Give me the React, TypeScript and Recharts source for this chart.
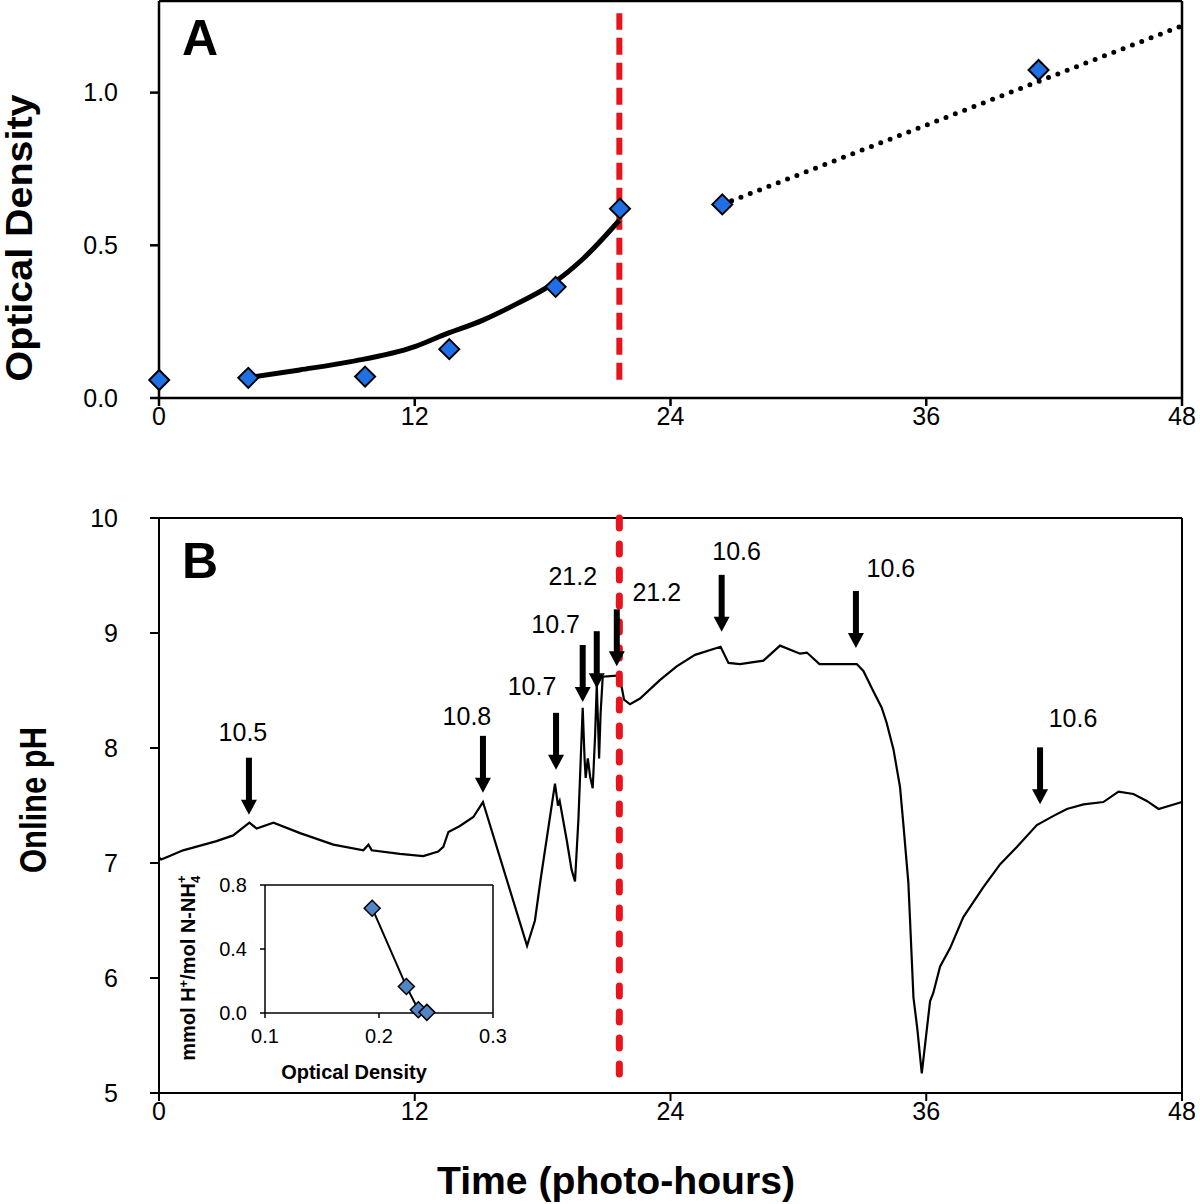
import React from 'react';
import { ComposedChart, Line, Scatter, XAxis, YAxis, ReferenceLine } from 'recharts';

const FONT = '"Liberation Sans", Arial, Helvetica, sans-serif';

// ---------- Panel A : optical density ----------
const odTime = [0.01, 4.19, 9.67, 13.62, 18.61, 21.63, 26.43, 41.27];
const odValue = [0.059, 0.066, 0.07, 0.16, 0.364, 0.62, 0.634, 1.074];
const fitTime = [4.3, 6.6, 9.0, 12.0, 13.3, 15.2, 16.8, 18.35, 19.9, 21.6];
const fitValue = [0.068, 0.092, 0.119, 0.168, 0.205, 0.255, 0.309, 0.369, 0.456, 0.582];
const trendTime = [26.43, 48];
const trendValue = [0.634, 1.219];
const odTicks = [0, 0.5, 1.0];
const timeTicks = [0, 12, 24, 36, 48];
const switchTime = 21.6;

// ---------- Panel B : online pH ----------
const phTime = [
  0, 0.1, 0.36, 1.13, 2.7, 3.48, 4.24, 4.58, 5.37, 6.62, 8.18, 9.59, 9.83, 9.98, 11.3, 12.4, 13.1, 13.34,
  13.58, 14.1, 14.75, 15.2, 17.27, 17.64, 17.9, 18.58, 18.72, 18.8, 19.13, 19.36, 19.52, 19.68, 19.88,
  19.97, 20.02, 20.12, 20.23, 20.35, 20.46, 20.54, 20.62, 20.65, 20.72, 20.82, 21.47, 21.6, 21.72, 21.82,
  22.1, 22.57, 23.5, 24.29, 25.15, 26.35, 26.72, 27.26, 28.36, 29.14, 30.08, 30.4, 30.99, 32.74, 33.05,
  33.5, 33.91, 34.14, 34.46, 34.77, 34.93, 35.16, 35.24, 35.4, 35.58, 35.79, 36.18, 36.33, 36.65, 37.12,
  37.74, 38.68, 39.47, 40.25, 41.19, 41.97, 42.6, 43.38, 44.31, 45.02, 45.72, 46.35, 46.9, 48,
];
const phValue = [
  7.05, 7.03, 7.05, 7.11, 7.19, 7.24, 7.35, 7.3, 7.35, 7.26, 7.16, 7.11, 7.16, 7.11, 7.08, 7.06, 7.1, 7.14,
  7.27, 7.32, 7.4, 7.53, 6.28, 6.5, 6.85, 7.69, 7.5, 7.54, 7.2, 6.94, 6.84, 7.38, 8.35,
  7.9, 7.74, 7.91, 7.75, 7.65, 8.1, 8.55, 8.1, 7.91, 8.3, 8.62, 8.63, 8.63, 8.52, 8.42,
  8.38, 8.43, 8.59, 8.71, 8.81, 8.88, 8.74, 8.73, 8.76, 8.89, 8.82, 8.83, 8.73, 8.73, 8.67,
  8.5, 8.35, 8.22, 7.99, 7.66, 7.33, 6.83, 6.5, 5.83, 5.56, 5.17, 5.8, 5.87, 6.1, 6.26,
  6.53, 6.79, 6.99, 7.14, 7.33, 7.41, 7.47, 7.51, 7.53, 7.62, 7.6, 7.54, 7.47, 7.53,
];
const phTicks = [5, 6, 7, 8, 9, 10];
const arrowTime = [4.22, 15.2, 18.63, 19.88, 20.54, 21.48, 26.4, 32.7, 41.34];
const arrowPH = [7.42, 7.61, 7.81, 8.4, 8.52, 8.71, 9.01, 8.87, 7.51];
const arrowLabel = ['10.5', '10.8', '10.7', '10.7', '21.2', '21.2', '10.6', '10.6', '10.6'];

// ---------- Inset ----------
const insetOD = [0.194, 0.224, 0.2345, 0.242];
const insetRatio = [0.655, 0.166, 0.02, 0.004];
const insetXTicks = [0.1, 0.2, 0.3];
const insetYTicks = [0, 0.4, 0.8];

// ---------- assembled tables ----------
const odPoints = odTime.map((x, i) => ({ x, y: odValue[i] }));
const fitPoints = fitTime.map((x, i) => ({ x, y: fitValue[i] }));
const trendPoints = trendTime.map((x, i) => ({ x, y: trendValue[i] }));
const phPoints = phTime.map((x, i) => ({ x, y: phValue[i] }));
const arrowPoints = arrowTime.map((x, i) => ({ x, y: arrowPH[i], label: arrowLabel[i] }));
const insetPoints = insetOD.map((x, i) => ({ x, y: insetRatio[i] }));

// label offsets (px) of the arrow annotations, relative to the arrow tip
const ARROW_LABEL_OFFSET: [number, number][] = [
  [-6, -74], [-16, -68], [-24, -75], [-27, -69], [-24, -103], [40, -65], [15, -72], [35, -71], [33, -77],
];

const makeDiamond = (r: number, fill: string, sw: number) => (props: any) => {
  const { cx, cy } = props;
  if (cx == null || cy == null) return <g />;
  return (
    <polygon
      points={`${cx},${cy - r} ${cx + r},${cy} ${cx},${cy + r} ${cx - r},${cy}`}
      fill={fill}
      stroke="#000"
      strokeWidth={sw}
    />
  );
};

const ArrowShape = (props: any) => {
  const { cx, cy, payload } = props;
  if (cx == null || cy == null) return <g />;
  const i = arrowTime.indexOf(payload.x);
  const [dx, dy] = ARROW_LABEL_OFFSET[i] || [0, -70];
  return (
    <g>
      <rect x={cx - 3} y={cy - 57} width={6} height={43} fill="#000" />
      <polygon points={`${cx - 8},${cy - 15} ${cx + 8},${cy - 15} ${cx},${cy}`} fill="#000" />
      <text x={cx + dx} y={cy + dy} textAnchor="middle" fontSize={25} fontFamily={FONT} fill="#000">
        {payload.label}
      </text>
    </g>
  );
};

const SvgText = (p: any) => {
  const { px, py, rot, size, len, weight = 'bold', children } = p;
  return (
    <text
      x={px}
      y={py}
      transform={rot ? `rotate(-90 ${px} ${py})` : undefined}
      textAnchor="middle"
      fontSize={size}
      fontWeight={weight}
      fontFamily={FONT}
      fill="#000"
      textLength={len}
      lengthAdjust={len ? 'spacingAndGlyphs' : undefined}
    >
      {children}
    </text>
  );
};

const PanelATitles = () => (
  <g>
    <SvgText px={32} py={238} rot size={36} len={287}>Optical Density</SvgText>
    <text x={182} y={55} fontSize={50} fontWeight="bold" fontFamily={FONT} fill="#000">A</text>
  </g>
);

const PanelBTitles = () => (
  <g>
    <SvgText px={46} py={330} rot size={36} len={146}>Online pH</SvgText>
    <text x={182} y={108} fontSize={50} fontWeight="bold" fontFamily={FONT} fill="#000">B</text>
  </g>
);

const TimeTitle = () => <SvgText px={616} py={724} size={38} len={358}>Time (photo-hours)</SvgText>;

const InsetYTitle = () => (
  <text
    x={45}
    y={108}
    transform="rotate(-90 45 108)"
    textAnchor="middle"
    fontSize={20}
    fontWeight="bold"
    fontFamily={FONT}
    fill="#000"
  >
    mmol H
    <tspan fontSize={13} dy={-7}>+</tspan>
    <tspan dy={7}>/mol N-NH</tspan>
    <tspan fontSize={13} dy={5}>4</tspan>
    <tspan fontSize={13} dx={-7} dy={-14}>+</tspan>
  </text>
);

const InsetXTitle = () => <SvgText px={204} py={219} size={20}>Optical Density</SvgText>;

const tickStyle = { fontSize: 25, fill: '#000', fontFamily: FONT };
const insetTickStyle = { fontSize: 20, fill: '#000', fontFamily: FONT };

export default function App() {
  return (
    <div style={{ position: 'absolute', left: 0, top: 0, width: 1200, height: 1204, background: '#fff', fontFamily: FONT }}>
      {/* Panel A */}
      <div style={{ position: 'absolute', left: 0, top: 0 }}>
        <ComposedChart width={1200} height={450} margin={{ top: 1, right: 18, left: 0, bottom: 0 }}>
          <XAxis
            dataKey="x"
            type="number"
            domain={[0, 48]}
            ticks={timeTicks}
            tick={tickStyle}
            tickSize={8}
            tickMargin={1}
            height={52}
            axisLine={{ stroke: '#000', strokeWidth: 2.5 }}
            tickLine={{ stroke: '#000', strokeWidth: 2.5 }}
          />
          <YAxis
            dataKey="y"
            type="number"
            domain={[0, 1.3]}
            ticks={odTicks}
            tickFormatter={(v: number) => v.toFixed(1)}
            tick={tickStyle}
            tickSize={9}
            tickMargin={32}
            width={159}
            axisLine={{ stroke: '#000', strokeWidth: 2.5 }}
            tickLine={{ stroke: '#000', strokeWidth: 2.5 }}
            label={<PanelATitles />}
          />
          <ReferenceLine y={1.3} stroke="#000" strokeWidth={2.5} />
          <ReferenceLine x={48} stroke="#000" strokeWidth={2.5} />
          <ReferenceLine
            segment={[{ x: switchTime, y: 0.06 }, { x: switchTime, y: 1.26 }]}
            stroke="#e8141b"
            strokeWidth={6}
            strokeDasharray="17 8"
          />
          <Scatter data={odPoints} dataKey="y" shape={makeDiamond(10, '#1f6fe5', 2)} isAnimationActive={false} />
          <Line
            data={fitPoints}
            dataKey="y"
            type="monotone"
            stroke="#000"
            strokeWidth={5}
            dot={false}
            isAnimationActive={false}
          />
          <Line
            data={trendPoints}
            dataKey="y"
            type="linear"
            stroke="#000"
            strokeWidth={5}
            strokeDasharray="0 10"
            strokeLinecap="round"
            dot={false}
            isAnimationActive={false}
          />
        </ComposedChart>
      </div>

      {/* Panel B */}
      <div style={{ position: 'absolute', left: 0, top: 470 }}>
        <ComposedChart width={1200} height={734} margin={{ top: 48, right: 18, left: 0, bottom: 0 }}>
          <XAxis
            dataKey="x"
            type="number"
            domain={[0, 48]}
            ticks={timeTicks}
            tick={tickStyle}
            tickSize={8}
            tickMargin={1}
            height={111}
            axisLine={{ stroke: '#000', strokeWidth: 2 }}
            tickLine={{ stroke: '#000', strokeWidth: 2 }}
            label={<TimeTitle />}
          />
          <YAxis
            dataKey="y"
            type="number"
            domain={[5, 10]}
            ticks={phTicks}
            tick={tickStyle}
            tickSize={9}
            tickMargin={32}
            width={159}
            axisLine={{ stroke: '#000', strokeWidth: 2 }}
            tickLine={{ stroke: '#000', strokeWidth: 2 }}
            label={<PanelBTitles />}
          />
          <ReferenceLine y={10} stroke="#000" strokeWidth={2} />
          <ReferenceLine x={48} stroke="#000" strokeWidth={2} />
          <Line
            data={phPoints}
            dataKey="y"
            type="linear"
            stroke="#000"
            strokeWidth={2.2}
            dot={false}
            isAnimationActive={false}
          />
          <ReferenceLine
            segment={[{ x: switchTime, y: 10 }, { x: switchTime, y: 5.03 }]}
            stroke="#e8141b"
            strokeWidth={7}
            strokeDasharray="10 16"
            strokeLinecap="round"
          />
          <Scatter data={arrowPoints} dataKey="y" shape={ArrowShape} isAnimationActive={false} />
        </ComposedChart>
      </div>

      {/* Inset */}
      <div style={{ position: 'absolute', left: 150, top: 860 }}>
        <ComposedChart width={360} height={230} margin={{ top: 25, right: 17, left: 0, bottom: 0 }}>
          <XAxis
            dataKey="x"
            type="number"
            domain={[0.1, 0.3]}
            ticks={insetXTicks}
            tickFormatter={(v: number) => v.toFixed(1)}
            tick={insetTickStyle}
            tickSize={5}
            tickMargin={11}
            height={77}
            axisLine={{ stroke: '#000', strokeWidth: 1.5 }}
            tickLine={{ stroke: '#000', strokeWidth: 1.5 }}
            label={<InsetXTitle />}
          />
          <YAxis
            dataKey="y"
            type="number"
            domain={[0, 0.8]}
            ticks={insetYTicks}
            tickFormatter={(v: number) => v.toFixed(1)}
            tick={insetTickStyle}
            tickSize={5}
            tickMargin={13}
            width={115}
            axisLine={{ stroke: '#000', strokeWidth: 1.5 }}
            tickLine={{ stroke: '#000', strokeWidth: 1.5 }}
            label={<InsetYTitle />}
          />
          <ReferenceLine y={0.8} stroke="#000" strokeWidth={1.5} />
          <ReferenceLine x={0.3} stroke="#000" strokeWidth={1.5} />
          <Line
            data={insetPoints}
            dataKey="y"
            type="linear"
            stroke="#000"
            strokeWidth={2}
            dot={false}
            isAnimationActive={false}
          />
          <Scatter data={insetPoints} dataKey="y" shape={makeDiamond(8, '#5285c8', 1.5)} isAnimationActive={false} />
        </ComposedChart>
      </div>
    </div>
  );
}
